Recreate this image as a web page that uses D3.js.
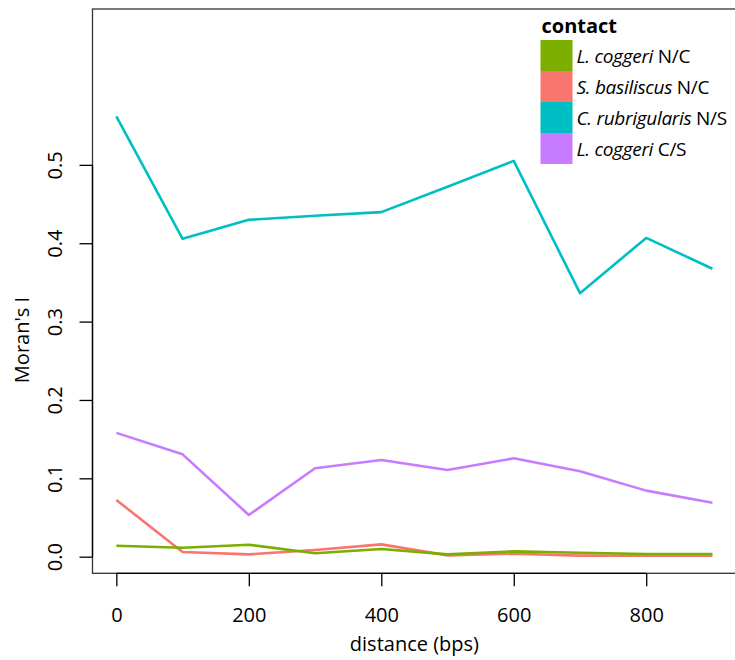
<!DOCTYPE html>
<html>
<head>
<meta charset="utf-8">
<script src="https://cdn.jsdelivr.net/npm/d3@7"></script>
<style>
  html, body { margin: 0; padding: 0; background: #fff; }
  svg { display: block; font-family: "Open Sans", "Noto Sans", sans-serif; }
</style>
</head>
<body>
<svg id="chart" width="735" height="660"></svg>
<script>
// Lag distances (bps) at which Moran's I was computed
const distances = [0, 100, 200, 300, 400, 500, 600, 700, 800, 900];

// Contact zones: species (italic) + zone label
const speciesNames = ["L. coggeri", "S. basiliscus", "C. rubrigularis", "L. coggeri"];
const zoneLabels = ["N/C", "N/C", "N/S", "C/S"];
const seriesColors = ["#7CAE00", "#F8766D", "#00BFC4", "#C77CFF"];

// Moran's I per contact zone
const lcoggeriNC = [0.0140, 0.0115, 0.0153, 0.0043, 0.0098, 0.0030, 0.0068, 0.0051, 0.0034, 0.0034];
const sbasiliscusNC = [0.0723, 0.0060, 0.0030, 0.0085, 0.0157, 0.0017, 0.0038, 0.0013, 0.0013, 0.0013];
const crubrigularisNS = [0.5620, 0.4056, 0.4299, 0.4350, 0.4397, 0.4720, 0.5051, 0.3363, 0.4068, 0.3675];
const lcoggeriCS = [0.1580, 0.1306, 0.0532, 0.1128, 0.1234, 0.1106, 0.1255, 0.1090, 0.0843, 0.0689];

const xTicks = [0, 200, 400, 600, 800];
const yTicks = [0.0, 0.1, 0.2, 0.3, 0.4, 0.5];

const series = [lcoggeriNC, sbasiliscusNC, crubrigularisNS, lcoggeriCS].map((vals, i) => ({
  species: speciesNames[i],
  zone: zoneLabels[i],
  color: seriesColors[i],
  points: distances.map((d, j) => ({ d, v: vals[j] }))
}));

const svg = d3.select("#chart");

// Plot region (box), x extended 4% each side of the data range
const box = { left: 92.5, right: 736.3, top: 9, bottom: 573.3 };
const x = d3.scaleLinear().domain([-36, 936]).range([box.left, box.right]);
const y = d3.scaleLinear().domain([-0.0212, 0.6989]).range([box.bottom, box.top]);

// Lines: drawn so the two near-zero series layer with green over red
const line = d3.line().x(p => x(p.d)).y(p => y(p.v));
const drawOrder = [1, 0, 2, 3];
svg.append("g").selectAll("path")
  .data(drawOrder.map(i => series[i]))
  .join("path")
  .attr("d", s => line(s.points))
  .attr("fill", "none")
  .attr("stroke", s => s.color)
  .attr("stroke-width", 2.6)
  .attr("stroke-linejoin", "round");

// Plot box
svg.append("rect")
  .attr("x", box.left).attr("y", box.top)
  .attr("width", box.right - box.left).attr("height", box.bottom - box.top)
  .attr("fill", "none").attr("stroke", "#333").attr("stroke-width", 1.3);

// X axis
const xAxis = svg.append("g")
  .attr("transform", `translate(0,${box.bottom})`)
  .call(d3.axisBottom(x).tickValues(xTicks).tickSize(13).tickSizeOuter(0).tickFormat(d3.format("d")));
xAxis.select(".domain").attr("d", `M${x(xTicks[0])},0H${x(xTicks[xTicks.length - 1])}`)
  .attr("stroke", "#000").attr("stroke-width", 1.3);
xAxis.selectAll(".tick line").attr("stroke", "#000").attr("stroke-width", 1.3);
xAxis.selectAll(".tick text")
  .attr("y", 48.5).attr("dy", null)
  .attr("font-size", 20).attr("font-family", "Open Sans").attr("fill", "#000");

// Y axis with labels rotated parallel to the axis
const yAxis = svg.append("g")
  .attr("transform", `translate(${box.left},0)`)
  .call(d3.axisLeft(y).tickValues(yTicks).tickSize(13).tickSizeOuter(0).tickFormat(d3.format(".1f")));
yAxis.select(".domain").attr("d", `M0,${y(yTicks[0])}V${y(yTicks[yTicks.length - 1])}`)
  .attr("stroke", "#000").attr("stroke-width", 1.3);
yAxis.selectAll(".tick line").attr("stroke", "#000").attr("stroke-width", 1.3);
yAxis.selectAll(".tick text")
  .attr("transform", "rotate(-90)")
  .attr("x", 0).attr("y", -30.5).attr("dy", null)
  .attr("text-anchor", "middle")
  .attr("font-size", 20).attr("font-family", "Open Sans").attr("fill", "#000");

// Axis titles
svg.append("text")
  .attr("x", (box.left + box.right) / 2).attr("y", 651)
  .attr("text-anchor", "middle").attr("font-size", 20)
  .text("distance (bps)");
svg.append("text")
  .attr("transform", "translate(28.5,340) rotate(-90)")
  .attr("text-anchor", "middle").attr("font-size", 20)
  .text("Moran's I");

// Legend
const legend = svg.append("g").attr("transform", "translate(540.5,0)");
legend.append("text")
  .attr("x", 1).attr("y", 32.5)
  .attr("font-size", 20).attr("font-weight", "bold")
  .text("contact");
const rows = legend.selectAll("g.row").data(series).join("g")
  .attr("class", "row")
  .attr("transform", (s, i) => `translate(0,${40 + i * 31})`);
rows.append("rect")
  .attr("width", 32).attr("height", 31)
  .attr("fill", s => s.color);
const labels = rows.append("text")
  .attr("x", 36).attr("y", 22.5).attr("font-size", 19)
  .attr("letter-spacing", -0.3);
labels.append("tspan").attr("font-style", "italic").text(s => s.species);
labels.append("tspan").text(s => " " + s.zone);
</script>
</body>
</html>
